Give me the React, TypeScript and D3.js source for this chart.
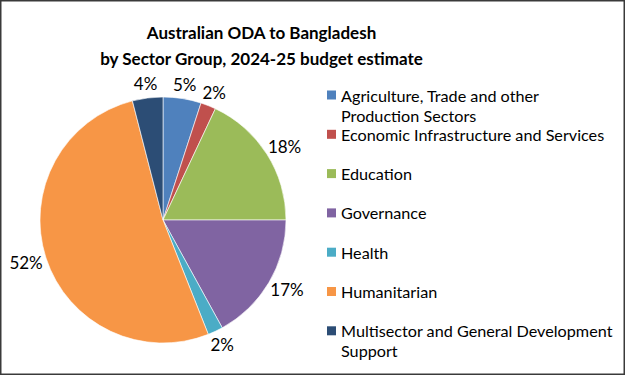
import React from "react";
import * as d3 from "d3";

const categories = [
  "Agriculture, Trade and other Production Sectors",
  "Economic Infrastructure and Services",
  "Education",
  "Governance",
  "Health",
  "Humanitarian",
  "Multisector and General Development Support",
];
const legendLines = [
  ["Agriculture, Trade and other", "Production Sectors"],
  ["Economic Infrastructure and Services"],
  ["Education"],
  ["Governance"],
  ["Health"],
  ["Humanitarian"],
  ["Multisector and General Development", "Support"],
];
const values = [5, 2, 18, 17, 2, 52, 4];
const colors = ["#4F81BD", "#C0504D", "#9BBB59", "#8064A2", "#4BACC6", "#F79646", "#2C4D75"];
const titleLines = ["Australian ODA to Bangladesh", "by Sector Group, 2024-25 budget estimate"];

const W = 625;
const H = 375;
const FONT = "Lato, 'Open Sans', sans-serif";

export default function App() {
  const cx = 163;
  const cy = 220;
  const r = 123;
  const pie = d3.pie<number>().sort(null).value((d) => d)(values);
  const arc = d3.arc<d3.PieArcDatum<number>>().innerRadius(0).outerRadius(r);
  const total = d3.sum(values);
  const fmt = (v: number) => `${Math.round((v / total) * 100)}%`;

  const legendX = 327;
  const legendTop = 95;
  const legendStep = 39.3;
  const lineH = 20;

  return (
    <svg
      width={W}
      height={H}
      style={{ position: "absolute", left: 0, top: 0, background: "#fff" }}
      fontFamily={FONT}
    >
      <rect x={0.75} y={0.75} width={W - 1.5} height={H - 1.5} fill="#fff" stroke="#3a3a3a" strokeWidth={1.5} />
      {titleLines.map((t, i) => (
        <text
          key={i}
          x={261.5}
          y={32 + i * 26}
          textAnchor="middle"
          dominantBaseline="central"
          fontWeight="bold"
          fontSize={17}
          fill="#000"
        >
          {t}
        </text>
      ))}
      <g transform={`translate(${cx},${cy})`}>
        {pie.map((d, i) => (
          <path key={i} d={arc(d) || ""} fill={colors[i]} stroke="#fff" strokeWidth={0.6} />
        ))}
        {pie.map((d, i) => {
          const a = (d.startAngle + d.endAngle) / 2;
          const s = Math.sin(a);
          const c = Math.cos(a);
          const label = fmt(d.value);
          const w = label.length * 10;
          const h = 17;
          const ar = r + 6;
          const x = ar * s + (w / 2) * s;
          const y = -ar * c - (h / 2) * c;
          return (
            <text
              key={i}
              x={x}
              y={y}
              textAnchor="middle"
              dominantBaseline="central"
              fontSize={17}
              fill="#000"
            >
              {label}
            </text>
          );
        })}
      </g>
      {categories.map((cat, i) => {
        const y0 = legendTop + i * legendStep;
        return (
          <g key={cat}>
            <rect x={legendX} y={y0 - 4.5} width={9} height={9} fill={colors[i]} />
            {legendLines[i].map((ln, j) => (
              <text
                key={j}
                x={legendX + 14}
                y={y0 + j * lineH}
                dominantBaseline="central"
                fontSize={16.2}
                fill="#000"
              >
                {ln}
              </text>
            ))}
          </g>
        );
      })}
    </svg>
  );
}
